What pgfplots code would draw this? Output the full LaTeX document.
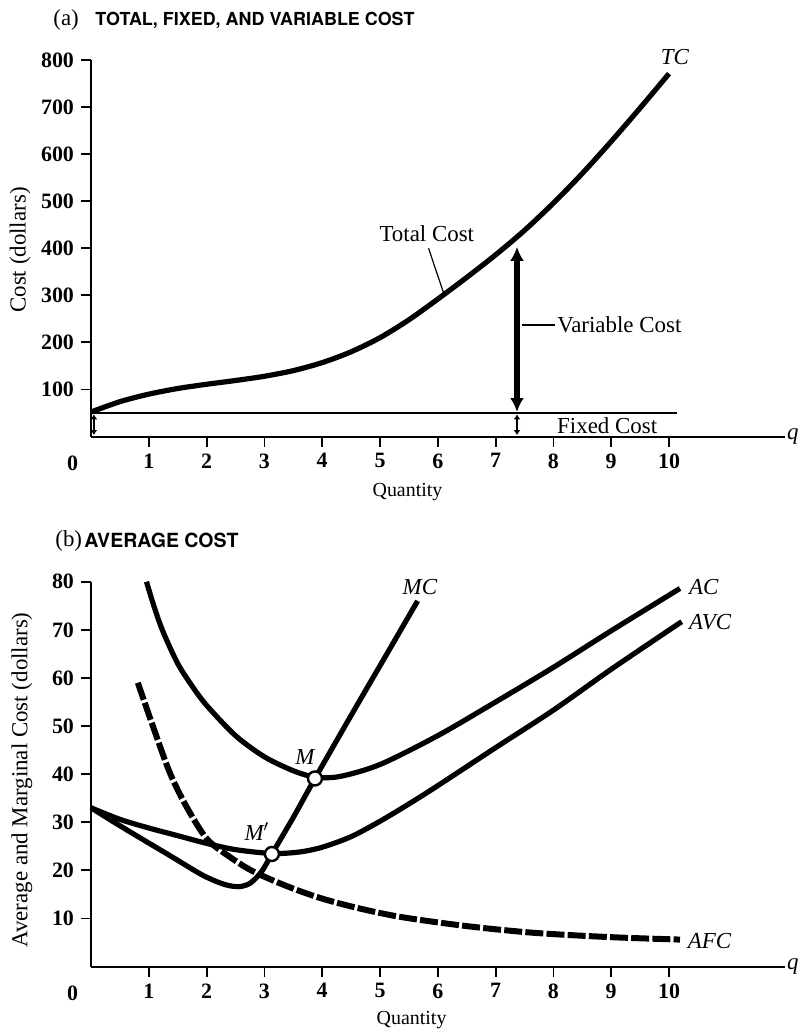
\documentclass[border=0pt]{standalone}
\usepackage{fontspec}
\setmainfont{Liberation Serif}
\newfontfamily\titlefont{TeX Gyre Heros}
\usepackage{pgfplots}
\pgfplotsset{compat=1.18}
\usetikzlibrary{arrows.meta}
\newcommand\annot{\fontsize{11.5}{13}\selectfont}
\pgfplotsset{costaxis/.style={
  scale only axis, axis lines=left, axis line style={-, line width=1bp},
  tick align=outside, major tick length=5bp, tick style={line width=0.9bp, black},
  xmin=0, xmax=12, ymin=0,
  xtick={1,2,...,10},
  ticklabel style={font=\fontsize{11}{12}\selectfont\bfseries},
  /pgf/number format/assume math mode=true,
  clip=false,
}}
\begin{document}
\begin{tikzpicture}
\path[use as bounding box] (0,0) rectangle (399bp,-516bp);
% titles
\node[anchor=west, font=\annot, inner sep=0] at (26.5bp,-10bp) {(a)};
\node[anchor=west, font={\titlefont\fontsize{9}{11}\selectfont\bfseries}, inner sep=0] at (47.5bp,-10bp) {TOTAL, FIXED, AND VARIABLE COST};
\node[anchor=west, font=\annot, inner sep=0] at (27.5bp,-270.3bp) {(b)};
\node[anchor=west, font={\titlefont\fontsize{9.8}{11}\selectfont\bfseries}, inner sep=0] at (42bp,-270.3bp) {AVERAGE COST};
% axis labels
\node[rotate=90, font=\annot] at (10bp,-125bp) {Cost (dollars)};
\node[rotate=90, font=\annot] at (11bp,-390bp) {Average and Marginal Cost (dollars)};
\node[font=\fontsize{10}{12}\selectfont] at (203.75bp,-246bp) {Quantity};
\node[font=\fontsize{10}{12}\selectfont] at (205.8bp,-510bp) {Quantity};

% ---------- (a) ----------
\begin{axis}[costaxis, at={(45.5bp,-218.25bp)}, anchor=south west,
  width=346.8bp, height=188.25bp, ymax=800, ytick={100,200,...,800}]
\addplot[smooth, line width=2.6bp, black] coordinates {
(0,52) (0.5,74) (1,90) (1.5,102) (2,111) (2.5,119) (3,128) (3.5,140) (4,157)
(4.5,180) (5,210) (5.5,248) (6,292) (6.5,338) (7,386) (7.5,438) (8,496)
(8.5,559) (9,627) (9.5,698) (10,771)};
% fixed cost line
\addplot[line width=1bp, black] coordinates {(0,50) (10.13,50)};
% variable cost arrow
\addplot[line width=3bp, black, {Latex[length=7bp,width=7bp]}-{Latex[length=7bp,width=7bp]}] coordinates {(7.37,52) (7.37,403)};
% fixed cost small arrows
\addplot[line width=0.8bp, black, {Latex[length=2.5bp,width=3.5bp]}-{Latex[length=2.5bp,width=3.5bp]}] coordinates {(0.05,3) (0.05,47)};
\addplot[line width=0.8bp, black, {Latex[length=2.5bp,width=3.5bp]}-{Latex[length=2.5bp,width=3.5bp]}] coordinates {(7.37,3) (7.37,47)};
% leader lines
\addplot[line width=0.6bp, black] coordinates {(5.84,400) (6.1,305)};
\addplot[line width=0.6bp, black] coordinates {(7.46,237) (8.03,237)};
\node[font=\annot] at (axis cs:5.81,430) {Total Cost};
\node[font=\annot, anchor=west, inner sep=0] at (axis cs:8.06,237) {Variable Cost};
\node[font=\annot] at (axis cs:8.93,24) {Fixed Cost};
\node[font=\annot\itshape] at (axis cs:10.1,807) {TC};
\node[font=\annot\itshape, anchor=west, inner sep=1bp] at (axis cs:12,0) {q};
\node[font=\fontsize{11}{12}\selectfont\bfseries, anchor=north, yshift=-6bp] at (axis cs:-0.32,0) {0};
\end{axis}

% ---------- (b) ----------
\begin{axis}[costaxis, at={(45.5bp,-483.25bp)}, anchor=south west,
  width=346.8bp, height=192.4bp, ymax=80, ytick={10,20,...,80}]
% AFC
\addplot[smooth, line width=3bp, black, dash pattern=on 9bp off 1.6bp] coordinates {
(0.81,59) (1.07,50) (1.36,40.4) (1.64,33.5) (2,26.6) (2.4,22.8) (2.8,19.8)
(3.37,16.8) (3.95,14.3) (4.6,12.2) (5.36,10.3) (6.5,8.4) (7.67,7) (9,6.1) (10.19,5.6)};
% AC
\addplot[smooth, line width=2.6bp, black] coordinates {
(0.96,80) (1.1,74.5) (1.25,69.5) (1.5,63) (1.75,58.3) (2,54.3) (2.5,48) (3,43.6)
(3.5,40.7) (3.875,39.4) (4.3,39.5) (5,42) (6,48) (7,55) (8,62.2) (9,69.8) (10.19,78.6)};
% AVC
\addplot[smooth, line width=2.6bp, black] coordinates {
(0,33) (0.5,30.6) (1,28.8) (1.5,27.2) (2,25.6) (2.5,24.3) (3.13,23.5) (3.6,23.8)
(4,24.8) (4.5,27) (5,30.2) (5.5,33.8) (6,37.6) (7,45.5) (8,53.3) (9,61.8) (10.22,71.7)};
% MC
\addplot[smooth, line width=2.6bp, black] coordinates {
(0,33) (0.4,30) (0.8,27.1) (1.36,23.1) (1.93,19) (2.3,17.1) (2.55,16.6) (2.75,17.3)
(2.95,19.7) (3.13,23.4) (3.5,31) (3.875,39.1) (4.5,52.2) (5.1,64.6) (5.65,76)};
% points M and M'
\addplot[only marks, mark=*, mark size=3.5bp, mark options={fill=white, draw=black, line width=1.2bp}] coordinates {(3.875,39.1) (3.13,23.4)};
\node[font=\annot\itshape] at (axis cs:3.7,43.6) {M};
\node[font=\annot\itshape] at (axis cs:2.87,28) {M$'$};
\node[font=\annot\itshape] at (axis cs:5.69,79) {MC};
\node[font=\annot\itshape, anchor=west, inner sep=0] at (axis cs:10.34,79) {AC};
\node[font=\annot\itshape, anchor=west, inner sep=0] at (axis cs:10.34,71.7) {AVC};
\node[font=\annot\itshape, anchor=west, inner sep=0] at (axis cs:10.32,5.2) {AFC};
\node[font=\annot\itshape, anchor=west, inner sep=1bp] at (axis cs:12,0) {q};
\node[font=\fontsize{11}{12}\selectfont\bfseries, anchor=north, yshift=-6bp] at (axis cs:-0.32,0) {0};
\end{axis}
\end{tikzpicture}
\end{document}
